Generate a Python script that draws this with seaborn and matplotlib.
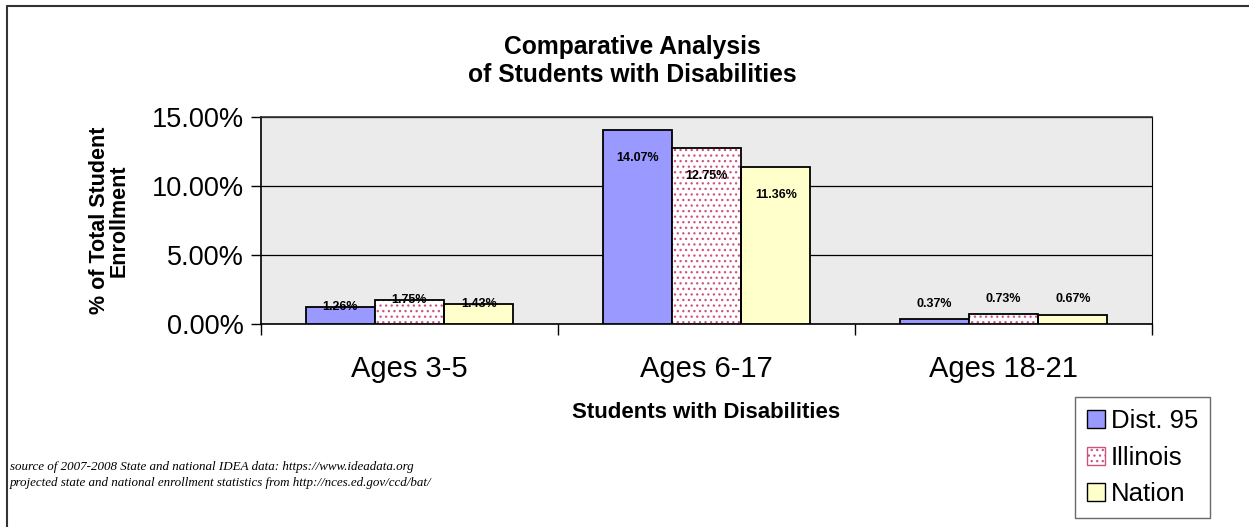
import pandas as pd
import numpy as np
import matplotlib.pyplot as plt
import matplotlib.lines as mlines
import matplotlib.patches as mpatches
from matplotlib.ticker import PercentFormatter, FixedLocator
import seaborn as sns

# data (fractions of total enrollment)
ages = ["Ages 3-5", "Ages 6-17", "Ages 18-21"]
groups = ["Dist. 95", "Illinois", "Nation"]
dist95 = [0.0126, 0.1407, 0.0037]
illinois = [0.0175, 0.1275, 0.0073]
nation = [0.0143, 0.1136, 0.0067]

df = pd.DataFrame({
    "age": ages * 3,
    "group": [g for g in groups for _ in ages],
    "pct": dist95 + illinois + nation,
})

sns.set_style("white")
plt.rcParams["font.family"] = ["Liberation Sans", "DejaVu Sans"]
plt.rcParams["text.color"] = "black"
plt.rcParams["axes.labelcolor"] = "black"
plt.rcParams["xtick.color"] = "black"
plt.rcParams["ytick.color"] = "black"
plt.rcParams["hatch.linewidth"] = 0.9

colors = {"Dist. 95": "#9999FF", "Illinois": "#FFFFFF", "Nation": "#FFFFCC"}
dot_color = "#D05080"

fig = plt.figure(figsize=(12.49, 5.27), dpi=100)
ax = fig.add_axes([261 / 1249, 1 - 324 / 527, 891 / 1249, 207 / 527])
ax.set_facecolor("#ebebeb")

sns.barplot(data=df, x="age", y="pct", hue="group", palette=colors,
            order=ages, hue_order=groups, width=0.7, edgecolor="black",
            linewidth=1.3, saturation=1, ax=ax, legend=False, zorder=3)

# Illinois bars: dotted fill, then black outline on top
for bar in ax.containers[1]:
    bar.set_hatch("...")
    bar.set_edgecolor(dot_color)
    bar.set_linewidth(0)
    outline = mpatches.Rectangle(bar.get_xy(), bar.get_width(), bar.get_height(),
                                 fill=False, edgecolor="black", linewidth=1.3, zorder=4)
    ax.add_patch(outline)

# value labels, position per age group like the original
label_offsets = [0, -20, 11]
for cont in ax.containers:
    for i, bar in enumerate(cont):
        h = bar.get_height()
        ax.annotate(f"{h * 100:.2f}%", (bar.get_x() + bar.get_width() / 2, h),
                    xytext=(0, label_offsets[i]), textcoords="offset points",
                    ha="center", va="center", fontsize=9, fontweight="bold", zorder=6)

ax.set_ylim(0, 0.15)
ax.set_xlim(-0.5, 2.5)
ax.set_yticks([0, 0.05, 0.10, 0.15])
ax.yaxis.set_major_formatter(PercentFormatter(1.0, decimals=2))
ax.grid(axis="y", color="black", linewidth=0.9, zorder=1)
ax.set_axisbelow(True)

ax.xaxis.set_minor_locator(FixedLocator([-0.5, 0.5, 1.5, 2.5]))
ax.tick_params(axis="x", which="major", length=0, labelsize=21, pad=22)
ax.tick_params(axis="x", which="minor", length=8, width=1, color="black", direction="out", bottom=True)
ax.tick_params(axis="y", length=7, width=1, color="black", direction="out", left=True,
               labelsize=19.5, pad=5)

for side in ["left", "bottom", "right", "top"]:
    ax.spines[side].set_visible(True)
    ax.spines[side].set_color("black")
    ax.spines[side].set_linewidth(1.2)
ax.spines["top"].set_color("#333333")
ax.spines["right"].set_linewidth(0.8)

ax.set_xlabel("Students with Disabilities", fontsize=16, fontweight="bold", labelpad=14)
ax.set_ylabel("% of Total Student\nEnrollment", fontsize=15.5, fontweight="bold", labelpad=16,
              linespacing=0.95)

fig.text(632 / 1249, 1 - 61 / 527, "Comparative Analysis\nof Students with Disabilities",
         ha="center", va="center", fontsize=17.7, fontweight="bold", linespacing=1.2)

fig.text(10 / 1249, 1 - 475 / 527,
         "source of 2007-2008 State and national IDEA data: https://www.ideadata.org\n"
         "projected state and national enrollment statistics from http://nces.ed.gov/ccd/bat/",
         ha="left", va="center", fontsize=9.4, style="italic",
         family=["Liberation Serif", "DejaVu Serif"], linespacing=1.45)

handles = [
    mpatches.Patch(facecolor=colors["Dist. 95"], edgecolor="black", label="Dist. 95"),
    mpatches.Patch(facecolor="white", edgecolor=dot_color, hatch="...", label="Illinois"),
    mpatches.Patch(facecolor=colors["Nation"], edgecolor="black", label="Nation"),
]
leg = fig.legend(handles=handles, loc="lower left",
                 bbox_to_anchor=(1075 / 1249, 1 - 518 / 527, 135 / 1249, 115 / 527),
                 mode="expand", fontsize=18.5, frameon=True, fancybox=False,
                 edgecolor="#444444", handlelength=0.7, handleheight=0.7,
                 handletextpad=0.25, labelspacing=0.5, borderpad=0.45, borderaxespad=0)
leg.get_frame().set_linewidth(1.0)

# outer chart border (top and left only visible in the crop)
fig.add_artist(mlines.Line2D([7 / 1249, 1], [1 - 6 / 527, 1 - 6 / 527],
                             color="#333333", linewidth=1.5, transform=fig.transFigure))
fig.add_artist(mlines.Line2D([7 / 1249, 7 / 1249], [0, 1 - 6 / 527],
                             color="#333333", linewidth=1.5, transform=fig.transFigure))

fig.savefig("out.png", dpi=100)
